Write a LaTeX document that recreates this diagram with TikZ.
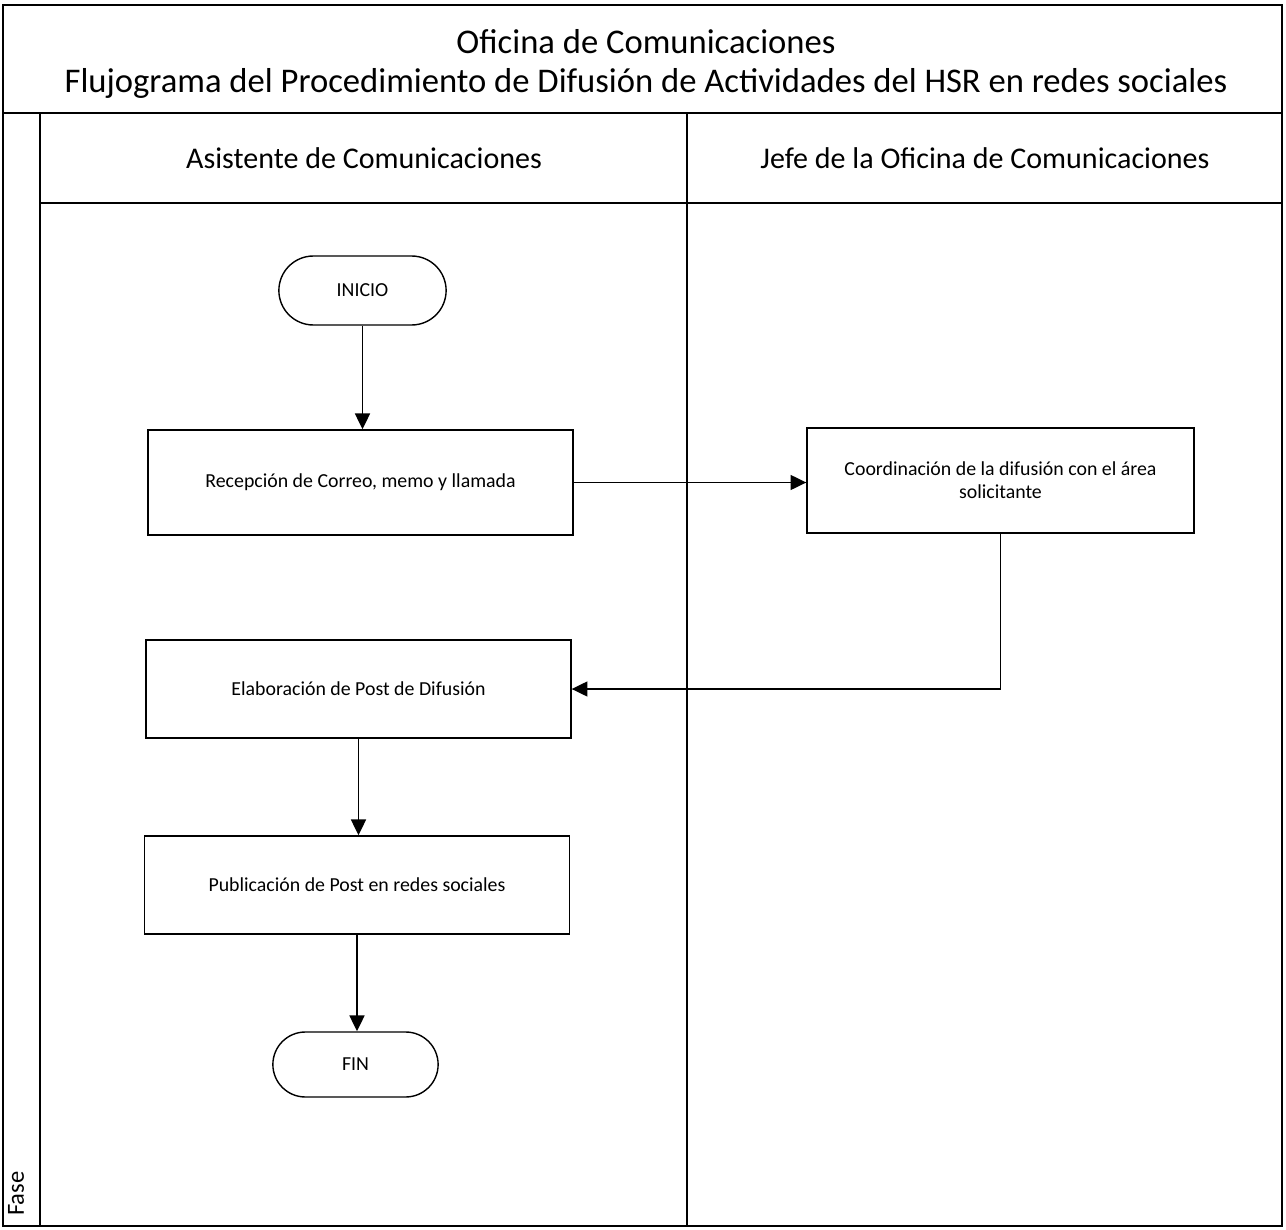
\documentclass[tikz,border=0pt]{standalone}
\usepackage{fontspec}
\setmainfont{Carlito}
\usepackage{tikz}
\usetikzlibrary{shapes.misc, arrows.meta, positioning, calc}

\begin{document}
\begin{tikzpicture}[
    x=0.02cm, y=-0.02cm,
    frame/.style={line width=0.9pt},
    box/.style={draw, line width=0.8pt, minimum width=8.5cm, minimum height=2.1cm, align=center, font=\fontsize{11.3}{13}\selectfont},
    term/.style={draw, line width=0.8pt, rounded rectangle, minimum width=3.58cm, minimum height=1.38cm, font=\fontsize{11.3}{13}\selectfont},
    arrow/.style={-{Triangle[length=9pt, width=8.5pt]}, line width=1pt}
]
    \useasboundingbox (0,0) rectangle (1286,1230);

    % swimlane frame
    \draw[frame] (3,5) rectangle (1282,1226);
    \draw[frame] (3,113) -- (1282,113);
    \draw[frame] (40,203) -- (1282,203);
    \draw[frame] (40,113) -- (40,1226);
    \draw[frame] (687,113) -- (687,1226);

    \node[align=center, font=\fontsize{19.7}{22}\selectfont] (title) at (646,64)
        {Oficina de Comunicaciones\\Flujograma del Procedimiento de Difusión de Actividades del HSR en redes sociales};
    \node[font=\fontsize{17.1}{20}\selectfont] (laneA) at (364,158) {Asistente de Comunicaciones};
    \node[font=\fontsize{17.1}{20}\selectfont] (laneB) at (985,158) {Jefe de la Oficina de Comunicaciones};
    \node[rotate=90, anchor=west, inner sep=0pt, font=\fontsize{14}{16}\selectfont] (fase) at (16,1216) {Fase};

    % steps
    \node[term] (inicio) at (362.5,290.5) {INICIO};
    \node[box] (recep) at (360.5,482.5) {Recepción de Correo, memo y llamada};
    \node[box, minimum width=7.74cm] (coord) at (1000.5,480.5) {Coordinación de la difusión con el área\\solicitante};
    \node[box, minimum height=1.96cm] (elab) at (358.5,689) {Elaboración de Post de Difusión};
    \node[box, minimum height=1.96cm] (publ) at (357,885) {Publicación de Post en redes sociales};
    \node[term, minimum width=3.54cm, minimum height=1.3cm] (fin) at (355.5,1064.5) {FIN};

    \draw[arrow] (inicio.south) -- (inicio.south |- recep.north);
    \draw[arrow] (recep.east) -- (recep.east -| coord.west);
    \draw[arrow] (coord.south) |- (elab.east);
    \draw[arrow] (elab.south) -- (elab.south |- publ.north);
    \draw[arrow] (publ.south) -- (publ.south |- fin.north);
\end{tikzpicture}
\end{document}
